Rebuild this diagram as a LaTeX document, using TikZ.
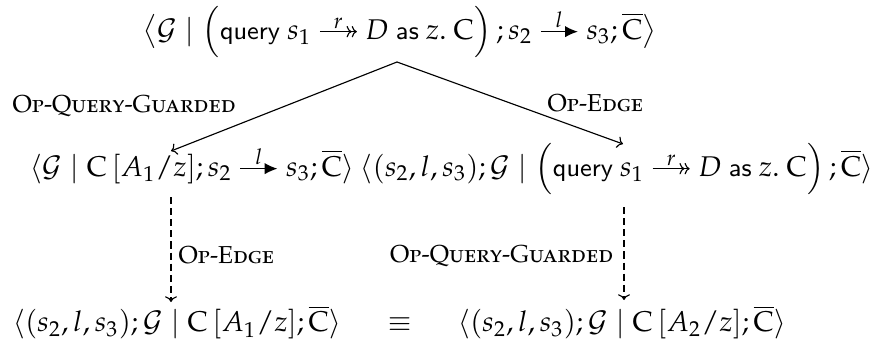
\documentclass[tikz,border=0pt]{standalone}
\usepackage[T1]{fontenc}
\usepackage[sc]{mathpazo}
\usepackage{amssymb}
\usepackage{amsmath}
\usetikzlibrary{arrows.meta}
\newcommand{\kw}[1]{\text{\fontencoding{OT1}\fontfamily{cmss}\fontsize{8.9}{11}\selectfont #1}}
\newcommand{\gapsp}{\mskip 4.5mu}
\newcommand{\larr}[1]{\mathrel{\tikz[baseline=-0.55ex]{\draw[line width=0.45pt,-{Latex[length=4.5pt,width=4pt]}] (0,0) -- (1.3em,0) node[midway,above,inner sep=1pt]{$\scriptstyle #1$};}}}
\newcommand{\qarr}{\mathrel{\tikz[baseline=-0.55ex]{\draw[line width=0.4pt,-{To[length=1.8pt,width=4pt]To[length=1.8pt,width=4pt]}] (0,0) -- (1.3em,0) node[midway,above,inner sep=1pt]{$\scriptstyle r$};}}}
\tikzset{
  term/.style={inner sep=0pt, anchor=base},
  rulelbl/.style={inner sep=0pt, font=\fontsize{8.6}{10}\selectfont\scshape},
  stepline/.style={-{To[length=2pt,width=4.2pt]}, line width=0.4pt},
  dashline/.style={stepline, dash pattern=on 2.5pt off 1.4pt}
}
\begin{document}
\begin{tikzpicture}[x=0.351pt,y=-0.351pt]
\useasboundingbox (0,0) rectangle (872,350);
\node[term] (top) at (400,39) {$\big\langle \mathcal{G} \mid \Bigl(\kw{query}\gapsp s_1 \qarr D\gapsp \kw{as}\gapsp z.\gapsp \mathrm{C}\Bigr)\,; s_2 \larr{l} s_3; \overline{\mathrm{C}}\big\rangle$};
\node[term] (midL) at (192,176) {$\langle \mathcal{G} \mid \mathrm{C}\,[A_1/z]; s_2 \larr{l} s_3; \overline{\mathrm{C}}\rangle$};
\node[term] (midR) at (617,176) {$\langle (s_2,l,s_3); \mathcal{G} \mid \Bigl(\kw{query}\gapsp s_1 \qarr D\gapsp \kw{as}\gapsp z.\gapsp \mathrm{C}\Bigr)\,;\overline{\mathrm{C}}\rangle$};
\node[term] (botL) at (177,332) {$\langle (s_2,l,s_3); \mathcal{G} \mid \mathrm{C}\,[A_1/z]; \overline{\mathrm{C}}\rangle$};
\node[term] (botR) at (622,332) {$\langle (s_2,l,s_3); \mathcal{G} \mid \mathrm{C}\,[A_2/z]; \overline{\mathrm{C}}\rangle$};
\node[term] (eqv) at (400,332) {$\equiv$};
\coordinate (apex) at (397,62);
\coordinate (tipL) at (171,151);
\coordinate (tipR) at (623,144);
\coordinate (dLs) at (171,197);
\coordinate (dLe) at (171,302);
\coordinate (dRs) at (624,207);
\coordinate (dRe) at (624,300);
\draw[stepline] (apex) -- (tipL);
\draw[stepline] (apex) -- (tipR);
\draw[dashline] (dLs) -- (dLe);
\draw[dashline] (dRs) -- (dRe);
\node[rulelbl, anchor=base west] (l1) at (12,113) {Op-Query-Guarded};
\node[rulelbl, anchor=base west] (l2) at (547,112) {Op-Edge};
\node[rulelbl, anchor=base west] (l3) at (178,263) {Op-Edge};
\node[rulelbl, anchor=base east] (l4) at (614,262) {Op-Query-Guarded};
\end{tikzpicture}
\end{document}
